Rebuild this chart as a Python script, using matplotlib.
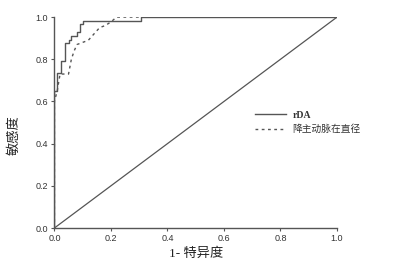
import matplotlib
matplotlib.use("Agg")
import matplotlib.pyplot as plt

# ROC data
fpr_rda = [0, 0, 0.01, 0.01, 0.024, 0.024, 0.038, 0.038, 0.05, 0.05, 0.06, 0.06,
           0.079, 0.079, 0.09, 0.09, 0.1, 0.1, 0.308, 0.308, 1.0]
tpr_rda = [0, 0.65, 0.65, 0.735, 0.735, 0.79, 0.79, 0.875, 0.875, 0.89, 0.89, 0.91,
           0.91, 0.93, 0.93, 0.965, 0.965, 0.98, 0.98, 1.0, 1.0]

fpr_dao = [0, 0, 0.01, 0.02, 0.05, 0.06, 0.07, 0.08, 0.1, 0.12, 0.14, 0.16,
           0.18, 0.2, 0.22, 0.3, 1.0]
tpr_dao = [0, 0.6, 0.65, 0.73, 0.73, 0.8, 0.84, 0.87, 0.88, 0.89, 0.92, 0.95,
           0.96, 0.977, 1.0, 1.0, 1.0]

ref_line = [0, 1]
ticks = [0.0, 0.2, 0.4, 0.6, 0.8, 1.0]
tick_labels = ["0.0", "0.2", "0.4", "0.6", "0.8", "1.0"]

series_names = ["rDA", "降主动脉在直径"]
xlabel = "1- 特异度"
ylabel = "敏感度"

col = "#555555"
fig = plt.figure(figsize=(4.09, 2.67), dpi=100)
ax = fig.add_axes([0.133, 0.146, 0.691, 0.79])

l1, = ax.plot(fpr_rda, tpr_rda, color=col, lw=1.0, label=series_names[0])
l2, = ax.plot(fpr_dao, tpr_dao, color=col, lw=1.0, linestyle=(0, (2, 2.5)), label=series_names[1])
ax.plot(ref_line, ref_line, color=col, lw=0.9)

ax.set_xlim(0, 1.0)
ax.set_ylim(0, 1.0)
ax.set_xticks(ticks)
ax.set_yticks(ticks)
ax.set_xticklabels(tick_labels, family=["Liberation Sans"], fontsize=6.5, color="#333333")
ax.set_yticklabels(tick_labels, family=["Liberation Sans"], fontsize=6.5, color="#333333")
ax.tick_params(direction="out", length=2.5, width=0.8, color=col, pad=2)
for s in ["top", "right"]:
    ax.spines[s].set_visible(False)
for s in ["left", "bottom"]:
    ax.spines[s].set_color(col)
    ax.spines[s].set_linewidth(1.0)
ax.spines["left"].set_bounds(0, 1.0)
ax.spines["bottom"].set_bounds(0, 1.0)

ax.set_xlabel(xlabel, family=["Liberation Serif", "Noto Sans CJK SC"], fontsize=9.5, color="#222222", labelpad=3)
ax.set_ylabel(ylabel, family=["Liberation Serif", "Noto Sans CJK SC"], fontsize=9.5, color="#222222")
ax.yaxis.set_label_coords(-0.12, 0.44)

leg = ax.legend(handles=[l1, l2], loc="center left", bbox_to_anchor=(0.68, 0.5),
                frameon=False, handlelength=3.2, handletextpad=0.6, labelspacing=0.5,
                prop={"family": ["Liberation Serif", "Noto Sans CJK SC"], "size": 7})
for t in leg.get_texts():
    t.set_color("#333333")
leg.get_texts()[0].set_fontweight("bold")

fig.savefig("out.png", dpi=100)
